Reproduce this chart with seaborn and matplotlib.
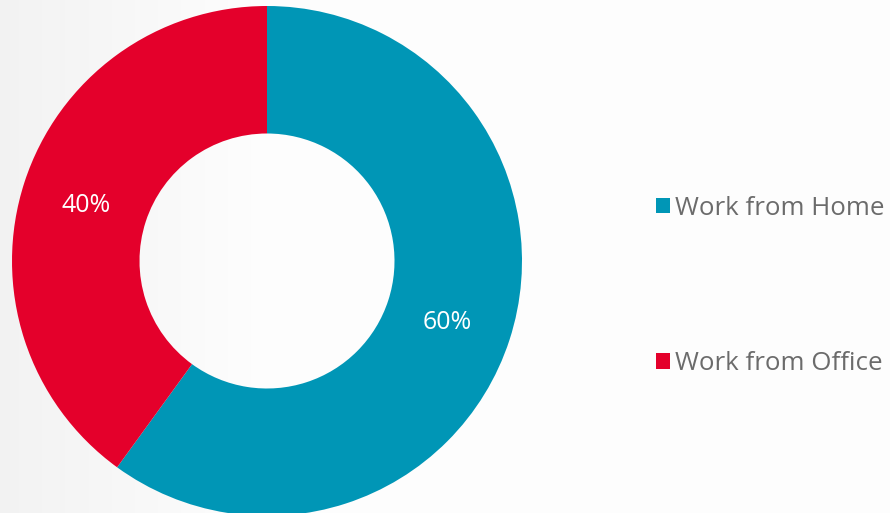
import numpy as np
import matplotlib
matplotlib.use("Agg")
import matplotlib.pyplot as plt
import seaborn as sns
from matplotlib.patches import Patch

categories = ["Work from Home", "Work from Office"]
values = [60, 40]
colors = ["#0096b6", "#e4002b"]

sns.set_theme(style="white")
plt.rcParams['font.family'] = ['Open Sans', 'DejaVu Sans']

W, H = 890, 513
fig = plt.figure(figsize=(W / 100, H / 100), dpi=100)

# subtle light background gradient
bg = fig.add_axes([0, 0, 1, 1])
xs = np.linspace(0, 1, 300)
grad = 0.95 + 0.045 * np.clip(xs / 0.3, 0, 1)
grad = np.tile(grad, (10, 1))
bg.imshow(np.dstack([grad, grad, grad]), aspect="auto", extent=[0, 1, 0, 1])
bg.set_axis_off()

cx, cy, r = 267, 261, 255
ax = fig.add_axes([(cx - r) / W, (H - cy - r) / H, 2 * r / W, 2 * r / H])
wedges, texts = ax.pie(values, colors=colors, startangle=90, counterclock=False,
                       radius=1, wedgeprops=dict(width=0.5, edgecolor="none"),
                       labels=[f"{v}%" for v in values], labeldistance=0.745,
                       textprops=dict(color="white", fontsize=18, ha="center",
                                      va="center_baseline"))
ax.set_xlim(-1, 1)
ax.set_ylim(-1, 1)
ax.set_aspect("equal")
ax.set_axis_off()

handles = [Patch(facecolor=c, edgecolor="none") for c in colors]
leg = fig.legend(handles, categories, loc="center left",
                 bbox_to_anchor=(656 / W, (H - 286) / H), frameon=False,
                 fontsize=18.6, labelspacing=5.05, handlelength=0.55, handleheight=0.55,
                 handletextpad=0.2, borderpad=0, borderaxespad=0)
for t in leg.get_texts():
    t.set_color("#6b6b6b")

fig.savefig("out.png", dpi=100)
